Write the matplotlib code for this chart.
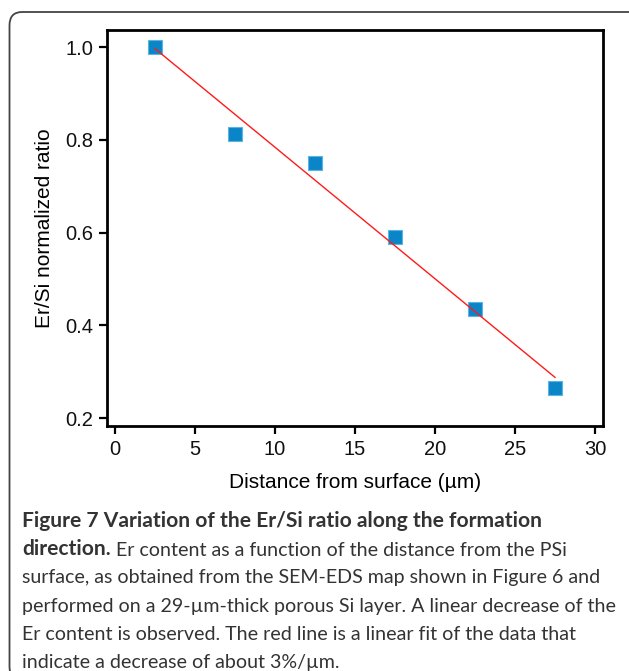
import numpy as np
import matplotlib
matplotlib.use("Agg")
import matplotlib.pyplot as plt
from matplotlib.patches import FancyBboxPatch

# Er/Si ratio measured along the porous layer
distance = [2.5, 7.5, 12.5, 17.5, 22.5, 27.5]
er_si_ratio = [1.000, 0.812, 0.750, 0.591, 0.436, 0.265]

x_ticks = [0, 5, 10, 15, 20, 25, 30]
y_ticks = [0.2, 0.4, 0.6, 0.8, 1.0]

caption_title = "Figure 7 Variation of the Er/Si ratio along the formation"
caption_bold = "direction."
caption_lines = [
    " Er content as a function of the distance from the PSi",
    "surface, as obtained from the SEM-EDS map shown in Figure 6 and",
    "performed on a 29-\u00b5m-thick porous Si layer. A linear decrease of the",
    "Er content is observed. The red line is a linear fit of the data that",
    "indicate a decrease of about 3%/\u00b5m.",
]

W, H = 629, 671
fig = plt.figure(figsize=(W / 100, H / 100), dpi=100)

# outer rounded frame
frame = FancyBboxPatch((9.5 / W, 1 - 680 / H), 640 / W, 668 / H,
                       boxstyle="round,pad=0,rounding_size=0.02",
                       transform=fig.transFigure, fill=False,
                       edgecolor="#444444", linewidth=1.3)
fig.patches.append(frame)

ax = fig.add_axes([107 / W, 1 - 426 / H, 496 / W, 396 / H])

# linear fit of the data
slope, intercept = np.polyfit(distance, er_si_ratio, 1)
fit_x = np.array([distance[0], distance[-1]])
ax.plot(fit_x, slope * fit_x + intercept, color="#ff1a1a", linewidth=1.0, zorder=3)
ax.plot(distance, er_si_ratio, linestyle="none", marker="s", markersize=9.5,
        markerfacecolor="#0a86c8", markeredgecolor="#5fb3e0", markeredgewidth=0.8,
        zorder=2)

ax.set_xlim(-0.5, 30.5)
ax.set_ylim(0.183, 1.037)
ax.set_xticks(x_ticks)
ax.set_yticks(y_ticks)
ax.set_yticklabels(["%.1f" % v for v in y_ticks])

for s in ax.spines.values():
    s.set_linewidth(2.0)
ax.tick_params(direction="out", length=6, width=1.6, labelsize=14.5,
               pad=4, labelcolor="#111111")
for lab in ax.get_xticklabels() + ax.get_yticklabels():
    lab.set_fontfamily("Liberation Sans")

ax.set_xlabel("Distance from surface (\u00b5m)", fontsize=15,
              family="Liberation Sans", labelpad=10)
ax.set_ylabel("Er/Si normalized ratio", fontsize=15,
              family="Liberation Sans", labelpad=8)

# caption
cap_font = ["Lato", "DejaVu Sans"]
bold_size = 15.1
text_size = 14.1
cap_color = "#333333"
x0 = 22 / W
y_first = 1 - 527 / H
step = 28.2 / H
fig.text(x0, y_first, caption_title, fontsize=bold_size, fontweight="bold",
         family=cap_font, color=cap_color, va="baseline")
bold = fig.text(x0, y_first - step, caption_bold, fontsize=bold_size,
                fontweight="bold", family=cap_font, color=cap_color,
                va="baseline")
ax.annotate(caption_lines[0], xy=(1, 0), xycoords=bold, va="bottom",
            ha="left", fontsize=text_size, family=cap_font, color=cap_color,
            annotation_clip=False)
for i, line in enumerate(caption_lines[1:]):
    fig.text(x0, y_first - step * (i + 2), line, fontsize=text_size,
             family=cap_font, color=cap_color, va="baseline")

fig.savefig("out.png", dpi=100)
